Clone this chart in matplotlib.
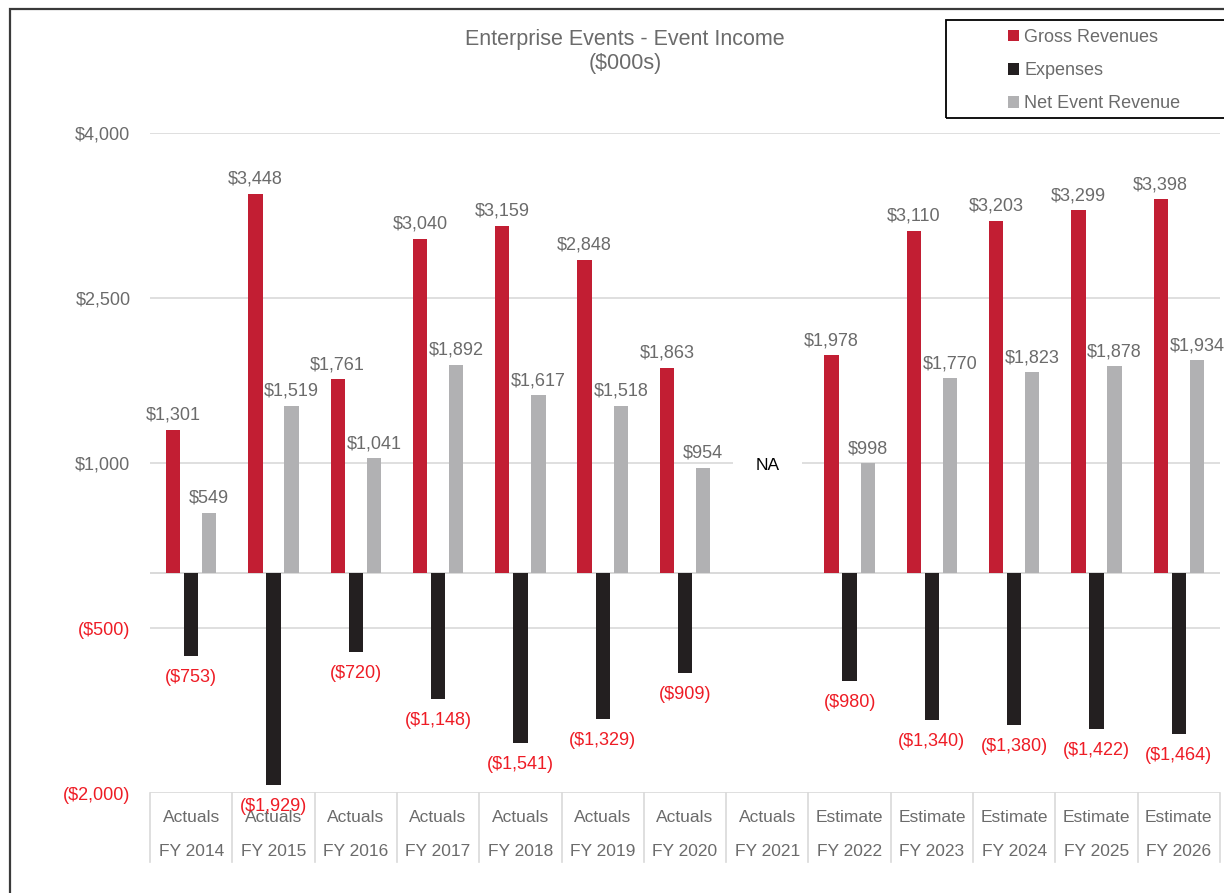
import matplotlib
matplotlib.use("Agg")
import matplotlib.pyplot as plt
import matplotlib.transforms as mtransforms
from matplotlib.patches import Patch, Rectangle
import numpy as np

plt.rcParams['font.family'] = ['Liberation Sans', 'DejaVu Sans']

# ---- data ($000s) ----
phases = ["Actuals"] * 8 + ["Estimate"] * 5
years = ["FY 2014", "FY 2015", "FY 2016", "FY 2017", "FY 2018", "FY 2019", "FY 2020",
         "FY 2021", "FY 2022", "FY 2023", "FY 2024", "FY 2025", "FY 2026"]
gross = [1301, 3448, 1761, 3040, 3159, 2848, 1863, np.nan, 1978, 3110, 3203, 3299, 3398]
expenses = [-753, -1929, -720, -1148, -1541, -1329, -909, np.nan, -980, -1340, -1380, -1422, -1464]
net = [549, 1519, 1041, 1892, 1617, 1518, 954, np.nan, 998, 1770, 1823, 1878, 1934]
na_year = "FY 2021"
y_ticks = [-2000, -500, 1000, 2500, 4000]

RED = "#C21E33"
BLACK = "#231F20"
GRAY = "#B1B1B3"
TXT = "#6B6B6B"
NEG = "#EE1C25"
GRID = "#D9D9D9"

W, H = 1224, 893
fig = plt.figure(figsize=(W / 100, H / 100), dpi=100)
ax = fig.add_axes([150 / W, 1 - 793 / H, 1070 / W, 660 / H])

x = np.arange(len(years))
bw = 0.174
off = 0.22

ax.bar(x - off, gross, bw, color=RED, zorder=3)
ax.bar(x, expenses, bw, color=BLACK, zorder=3)
ax.bar(x + off, net, bw, color=GRAY, zorder=3)

def money(v):
    s = "${:,.0f}".format(abs(v))
    return "({})".format(s) if v < 0 else s

for i in x:
    if not np.isnan(gross[i]):
        ax.annotate(money(gross[i]), (i - off, gross[i]), xytext=(0, 10.5), textcoords="offset points",
                    ha="center", va="center", fontsize=13, color=TXT, zorder=4)
    if not np.isnan(net[i]):
        ax.annotate(money(net[i]), (i + off, net[i]), xytext=(0, 10.5), textcoords="offset points",
                    ha="center", va="center", fontsize=13, color=TXT, zorder=4)
    if not np.isnan(expenses[i]):
        ax.annotate(money(expenses[i]), (i, expenses[i]), xytext=(0, -15.5), textcoords="offset points",
                    ha="center", va="center", fontsize=13, color=NEG, zorder=4)

ax.annotate("NA", (years.index(na_year), 1000), xytext=(0, -2), textcoords="offset points",
            ha="center", va="center", fontsize=12.5, color="black", zorder=4,
            bbox=dict(boxstyle="square,pad=1.3", facecolor="white", edgecolor="none"))

ax.set_xlim(-0.5, len(years) - 0.5)
ax.set_ylim(-2000, 4000)
ax.set_yticks(y_ticks)
ax.set_yticklabels([money(v) for v in y_ticks], fontsize=13)
for lbl, v in zip(ax.get_yticklabels(), y_ticks):
    lbl.set_color(NEG if v < 0 else TXT)
ax.tick_params(axis="y", length=0, pad=14)
ax.set_xticks([])
for s in ax.spines.values():
    s.set_visible(False)
for v in y_ticks:
    ax.axhline(v, color=GRID, lw=1.2, zorder=1)
ax.axhline(0, color=GRID, lw=1.4, zorder=2)

# two-level category table under the plot
trans = mtransforms.blended_transform_factory(ax.transData, ax.transAxes)
tbl_bot = -69 / 660
for b in np.arange(len(years) + 1) - 0.5:
    ax.plot([b, b], [0, tbl_bot], transform=trans, color=GRID, lw=1.2, clip_on=False)
for i in x:
    ax.text(i, -25 / 660, phases[i], transform=trans, ha="center", va="center", fontsize=12.5, color=TXT)
    ax.text(i, -59 / 660, years[i], transform=trans, ha="center", va="center", fontsize=12.5, color=TXT)

# title
fig.text(625 / W, 1 - 40 / H, "Enterprise Events - Event Income", ha="center", va="center",
         fontsize=15.5, color=TXT)
fig.text(625 / W, 1 - 64 / H, "($000s)", ha="center", va="center", fontsize=15.5, color=TXT)

# outer frame
fig.patches.append(Rectangle((10 / W, -0.05), 1.1, 1 - 9 / H + 0.05, transform=fig.transFigure,
                             fill=False, edgecolor="#3A3A3A", lw=1.6))

# legend with framed box
fig.patches.append(Rectangle((946 / W, 1 - 118 / H), 0.3, 98 / H, transform=fig.transFigure,
                             fill=False, edgecolor="black", lw=1.3))
handles = [Patch(facecolor=RED, edgecolor="none"),
           Patch(facecolor=BLACK, edgecolor="none"),
           Patch(facecolor=GRAY, edgecolor="none")]
fig.legend(handles, ["Gross Revenues", "Expenses", "Net Event Revenue"],
           loc="upper left", bbox_to_anchor=(1008 / W, 1 - 29 / H), frameon=False,
           fontsize=13, handlelength=0.6, handleheight=0.6, handletextpad=0.3,
           labelspacing=0.9, borderpad=0, borderaxespad=0, labelcolor=TXT)

fig.savefig("out.png", dpi=100)
